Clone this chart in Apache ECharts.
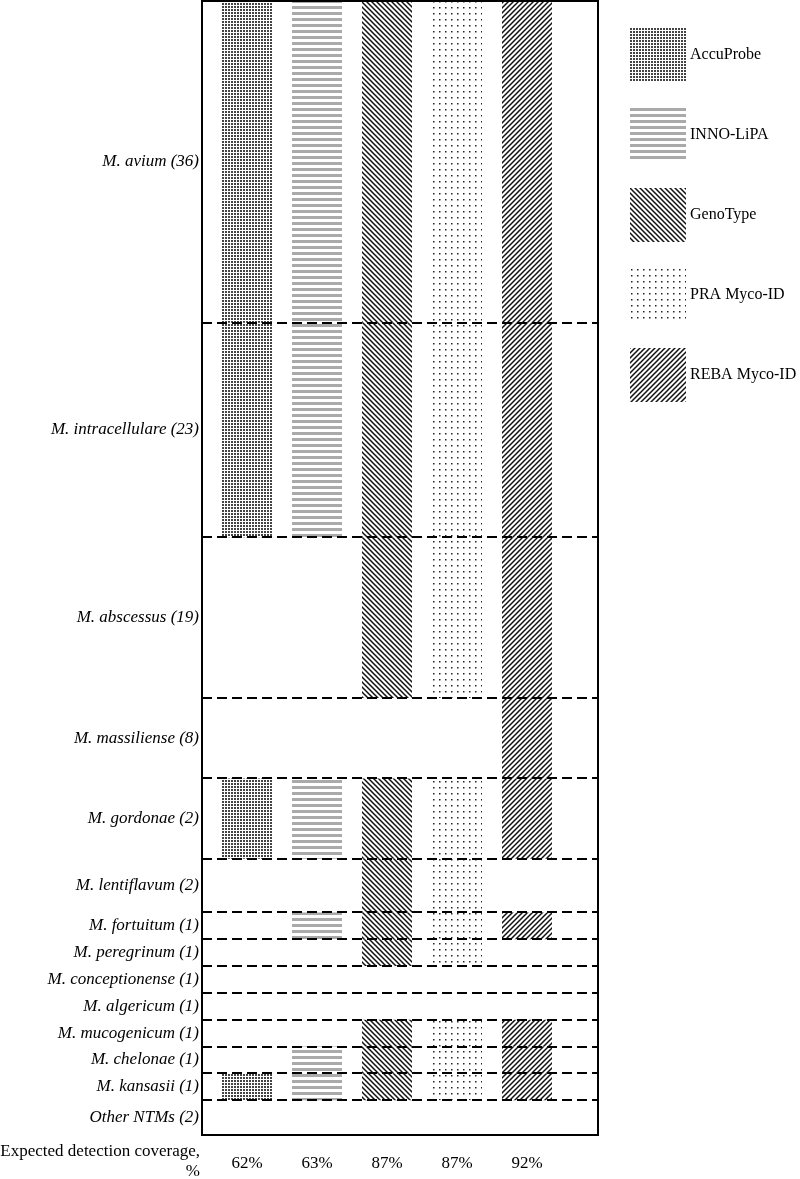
<!DOCTYPE html>
<html><head><meta charset="utf-8">
<script src="https://cdn.jsdelivr.net/npm/echarts@6/dist/echarts.min.js"></script>
<style>html,body{margin:0;padding:0;background:#fff}#c{width:800px;height:1179px}</style>
</head><body><div id="c"></div>
<script>
// ---- data ----
const species = ['M. avium (36)', 'M. intracellulare (23)', 'M. abscessus (19)', 'M. massiliense (8)',
  'M. gordonae (2)', 'M. lentiflavum (2)', 'M. fortuitum (1)', 'M. peregrinum (1)', 'M. conceptionense (1)',
  'M. algericum (1)', 'M. mucogenicum (1)', 'M. chelonae (1)', 'M. kansasii (1)', 'Other NTMs (2)'];
const rowSpans = [12, 8, 6, 3, 3, 2, 1, 1, 1, 1, 1, 1, 1, 1.3];
const methods = ['AccuProbe', 'INNO-LiPA', 'GenoType', 'PRA Myco-ID', 'REBA Myco-ID'];
const coverage = ['62%', '63%', '87%', '87%', '92%'];
const accuProbe  = [1, 1, 0, 0, 1, 0, 0, 0, 0, 0, 0, 0, 1, 0];
const innoLipa   = [1, 1, 0, 0, 1, 0, 1, 0, 0, 0, 0, 1, 1, 0];
const genoType   = [1, 1, 1, 0, 1, 1, 1, 1, 0, 0, 1, 1, 1, 0];
const praMycoId  = [1, 1, 1, 0, 1, 1, 1, 1, 0, 0, 1, 1, 1, 0];
const rebaMycoId = [1, 1, 1, 1, 1, 0, 1, 0, 0, 0, 1, 1, 1, 0];
const detection = [accuProbe, innoLipa, genoType, praMycoId, rebaMycoId];

// ---- derived ----
const bounds = [0];
rowSpans.forEach(s => bounds.push(bounds[bounds.length - 1] + s));
const mids = rowSpans.map((s, i) => bounds[i] + s / 2);
const total = bounds[bounds.length - 1];

// ---- patterns ----
function pattern(kind) {
  const c = document.createElement('canvas');
  let ctx;
  if (kind === 0) { // dense dots
    c.width = 3; c.height = 3; ctx = c.getContext('2d');
    ctx.fillStyle = '#fff'; ctx.fillRect(0, 0, 3, 3);
    ctx.fillStyle = '#444'; ctx.fillRect(0, 0, 2, 2);
  } else if (kind === 1) { // gray horizontal lines
    c.width = 6; c.height = 6; ctx = c.getContext('2d');
    ctx.fillStyle = '#fff'; ctx.fillRect(0, 0, 6, 6);
    ctx.fillStyle = '#aaaaaa'; ctx.fillRect(0, 0, 6, 3);
  } else if (kind === 2 || kind === 4) { // diagonals
    const s = 5;
    c.width = s; c.height = s; ctx = c.getContext('2d');
    ctx.fillStyle = '#fff'; ctx.fillRect(0, 0, s, s);
    ctx.strokeStyle = '#111'; ctx.lineWidth = 1.5;
    ctx.beginPath();
    if (kind === 2) {
      ctx.moveTo(-1, -1); ctx.lineTo(s + 1, s + 1);
      ctx.moveTo(-1, s - 1); ctx.lineTo(1, s + 1);
      ctx.moveTo(s - 1, -1); ctx.lineTo(s + 1, 1);
    } else {
      ctx.moveTo(-1, s + 1); ctx.lineTo(s + 1, -1);
      ctx.moveTo(-1, 1); ctx.lineTo(1, -1);
      ctx.moveTo(s - 1, s + 1); ctx.lineTo(s + 1, s - 1);
    }
    ctx.stroke();
  } else { // sparse dots
    c.width = 6; c.height = 6; ctx = c.getContext('2d');
    ctx.fillStyle = '#fff'; ctx.fillRect(0, 0, 6, 6);
    ctx.fillStyle = '#222'; ctx.fillRect(1, 1, 1.5, 1.5);
  }
  return { image: c, repeat: 'repeat' };
}
const patterns = methods.map((m, i) => pattern(i));

const serif = 'Liberation Serif';
const chart = echarts.init(document.getElementById('c'), null, { renderer: 'canvas' });

const barSeries = methods.map((m, mi) => ({
  name: m,
  type: 'custom',
  itemStyle: { color: patterns[mi] },
  data: detection[mi].map((d, r) => d ? [mi + 1, bounds[r], bounds[r + 1]] : null).filter(Boolean),
  encode: { x: 0, y: [1, 2] },
  renderItem: (params, api) => {
    const x = api.value(0);
    const p0 = api.coord([x, api.value(1)]);
    const p1 = api.coord([x, api.value(2)]);
    const w = api.size([0.714, 0])[0];
    return { type: 'rect', shape: { x: p0[0] - w / 2, y: p0[1], width: w, height: p1[1] - p0[1] },
      style: { fill: patterns[mi] } };
  },
  z: 2
}));

const dashSeries = {
  type: 'custom',
  silent: true,
  data: bounds.slice(1, -1).map(b => [1, b]),
  encode: { x: 0, y: 1 },
  renderItem: (params, api) => {
    const cs = params.coordSys;
    const y = Math.round(api.coord([1, api.value(1)])[1]);
    return { type: 'line', shape: { x1: cs.x, y1: y, x2: cs.x + cs.width, y2: y },
      style: { stroke: '#000', lineWidth: 2, lineDash: [10, 5] } };
  },
  z: 5
};

chart.setOption({
  animation: false,
  backgroundColor: '#fff',
  grid: { left: 202, top: 1, width: 396, height: 1134, show: true, borderColor: '#000', borderWidth: 2, backgroundColor: 'transparent', z: 10 },
  xAxis: {
    type: 'value', min: 0.3571, max: 6.0143,
    axisLine: { show: false }, axisTick: { show: false }, splitLine: { show: false },
    axisLabel: { customValues: [1, 2, 3, 4, 5], formatter: v => coverage[Math.round(v) - 1],
      fontFamily: serif, fontSize: 17, color: '#000', margin: 20 }
  },
  yAxis: {
    type: 'value', inverse: true, min: 0, max: total,
    axisLine: { show: false }, axisTick: { show: false }, splitLine: { show: false },
    axisLabel: { customValues: mids, formatter: v => {
        let best = 0; mids.forEach((m, i) => { if (Math.abs(m - v) < Math.abs(mids[best] - v)) best = i; });
        return species[best];
      }, fontFamily: serif, fontStyle: 'italic', fontSize: 17, color: '#000', margin: 3 }
  },
  legend: {
    data: methods, orient: 'vertical', left: 630, top: 28, padding: 0,
    itemWidth: 56, itemHeight: 54, itemGap: 26, icon: 'rect', selectedMode: false,
    textStyle: { fontFamily: serif, fontSize: 16, color: '#000', padding: [0, 0, 0, -1] }
  },
  graphic: [{
    type: 'text', x: 200, y: 1142,
    style: { text: 'Expected detection coverage,\n%', align: 'right', verticalAlign: 'top',
      fontFamily: serif, fontSize: 17, lineHeight: 20, fill: '#000' }
  }],
  series: [...barSeries, dashSeries]
});
</script></body></html>
